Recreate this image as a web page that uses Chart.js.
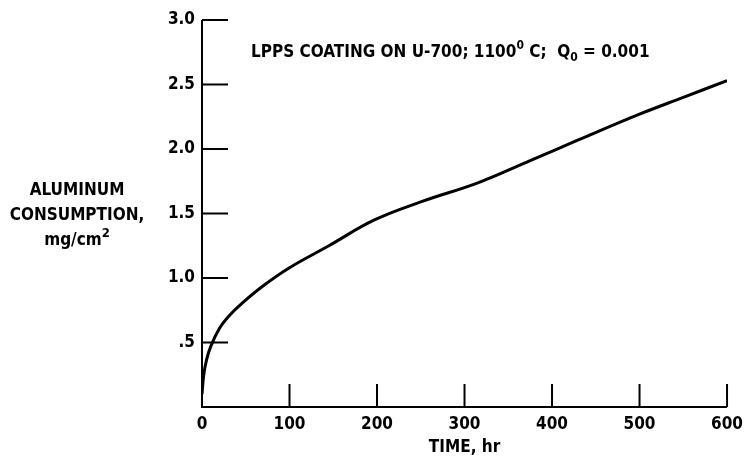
<!DOCTYPE html>
<html>
<head>
<meta charset="utf-8">
<script src="https://cdn.jsdelivr.net/npm/chart.js@4/dist/chart.umd.min.js"></script>
<style>
    html, body { margin: 0; padding: 0; background: #fff; }
    #wrap { width: 750px; height: 461px; }
</style>
</head>
<body>
<div id="wrap"><canvas id="aluminumChart" width="750" height="461"></canvas></div>
<script>
// 数据：时间 (hr) 与铝消耗量 (mg/cm2)
var timeHr = [0, 2, 5, 10, 20, 30, 45, 70, 100, 145, 197, 250, 316, 375, 430, 500, 550, 600];
var consumption = [0.10, 0.25, 0.36, 0.47, 0.61, 0.70, 0.80, 0.94, 1.08, 1.25, 1.45, 1.59, 1.74, 1.91, 2.07, 2.27, 2.40, 2.53];
var xTicks = [0, 100, 200, 300, 400, 500, 600];
var yTicks = [0, 0.5, 1.0, 1.5, 2.0, 2.5, 3.0];

var FONT = "'Liberation Sans Narrow', 'DejaVu Sans Condensed', sans-serif";

// 画一行文字，支持上标/下标
function drawPieces(ctx, pieces, x, y, align) {
    var total = 0;
    pieces.forEach(function(p) {
        ctx.font = 'bold ' + p.size + 'px ' + FONT;
        total += ctx.measureText(p.text).width;
    });
    var cx = align === 'center' ? x - total / 2 : x;
    pieces.forEach(function(p) {
        ctx.font = 'bold ' + p.size + 'px ' + FONT;
        ctx.fillText(p.text, cx, y + (p.dy || 0));
        cx += ctx.measureText(p.text).width;
    });
}

// 坐标轴线、向内的刻度、左侧标题与图内说明
var axesPlugin = {
    id: 'axesPlugin',
    afterDraw: function(chart) {
        var ctx = chart.ctx;
        var area = chart.chartArea;
        var xs = chart.scales.x;
        var ys = chart.scales.y;
        ctx.save();
        ctx.strokeStyle = '#000';
        ctx.lineWidth = 2;
        ctx.beginPath();
        ctx.moveTo(area.left, ys.getPixelForValue(3.0));
        ctx.lineTo(area.left, area.bottom);
        ctx.lineTo(xs.getPixelForValue(600), area.bottom);
        ctx.stroke();

        ctx.beginPath();
        yTicks.forEach(function(v) {
            if (v === 0) return;
            var py = ys.getPixelForValue(v);
            ctx.moveTo(area.left, py);
            ctx.lineTo(area.left + 26, py);
        });
        xTicks.forEach(function(v) {
            if (v === 0) return;
            var px = xs.getPixelForValue(v);
            ctx.moveTo(px, area.bottom);
            ctx.lineTo(px, area.bottom - 23);
        });
        ctx.stroke();

        ctx.fillStyle = '#000';
        ctx.textBaseline = 'alphabetic';
        ctx.textAlign = 'left';
        drawPieces(ctx, [{ text: 'ALUMINUM', size: 17 }], 77, 195, 'center');
        drawPieces(ctx, [{ text: 'CONSUMPTION,', size: 17 }], 77, 220, 'center');
        drawPieces(ctx, [{ text: 'mg/cm', size: 17 }, { text: '2', size: 13, dy: -8 }], 77, 245, 'center');

        drawPieces(ctx, [
            { text: 'LPPS COATING ON U-700; 1100', size: 17 },
            { text: '0', size: 12, dy: -8 },
            { text: ' C;  Q', size: 17 },
            { text: '0', size: 12, dy: 4 },
            { text: ' = 0.001', size: 17 }
        ], 251, 57, 'left');
        ctx.restore();
    }
};

document.addEventListener('DOMContentLoaded', function() {
    var ctx = document.getElementById('aluminumChart').getContext('2d');
    var points = timeHr.map(function(t, i) { return { x: t, y: consumption[i] }; });

    new Chart(ctx, {
        type: 'scatter',
        data: {
            datasets: [{
                data: points,
                showLine: true,
                borderColor: '#000',
                borderWidth: 3,
                pointRadius: 0,
                tension: 0.4
            }]
        },
        options: {
            responsive: false,
            animation: false,
            layout: { padding: { top: 20, right: 20, left: 0, bottom: 0 } },
            plugins: {
                legend: { display: false },
                tooltip: { enabled: false }
            },
            scales: {
                x: {
                    type: 'linear',
                    min: 0,
                    max: 600,
                    afterFit: function(scale) { scale.height = 54; },
                    afterBuildTicks: function(scale) {
                        scale.ticks = xTicks.map(function(v) { return { value: v }; });
                    },
                    grid: { display: false, drawTicks: false },
                    border: { display: false },
                    ticks: {
                        color: '#000',
                        padding: 7,
                        maxRotation: 0,
                        autoSkip: false,
                        font: { family: FONT, size: 17, weight: 'bold' },
                        callback: function(v) { return String(v); }
                    },
                    title: {
                        display: true,
                        text: 'TIME, hr',
                        color: '#000',
                        padding: { top: 0, bottom: 3 },
                        font: { family: FONT, size: 17, weight: 'bold' }
                    }
                },
                y: {
                    type: 'linear',
                    min: 0,
                    max: 3.0,
                    afterFit: function(scale) { scale.width = 202; },
                    afterBuildTicks: function(scale) {
                        scale.ticks = yTicks.map(function(v) { return { value: v }; });
                    },
                    grid: { display: false, drawTicks: false },
                    border: { display: false },
                    ticks: {
                        color: '#000',
                        padding: 7,
                        autoSkip: false,
                        font: { family: FONT, size: 17, weight: 'bold' },
                        callback: function(v) {
                            if (v === 0) return '';
                            if (v === 0.5) return '.5';
                            return v.toFixed(1);
                        }
                    }
                }
            }
        },
        plugins: [axesPlugin]
    });
});
</script>
</body>
</html>
